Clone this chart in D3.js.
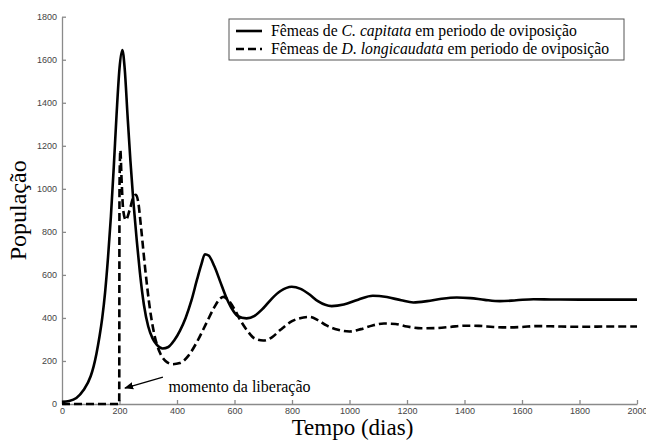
<!DOCTYPE html>
<html>
<head>
<meta charset="utf-8">
<script src="https://cdn.jsdelivr.net/npm/d3@7"></script>
<style>
  body { margin: 0; background: #fff; }
  .tick text { font-family: "Liberation Sans", Arial, sans-serif; font-size: 9px; fill: #444; }
  .axis path, .axis line { stroke: #8a8a8a; stroke-width: 1.3; }
</style>
</head>
<body>
<script>
// C. capitata females (solid)
var capDays = [0, 25, 50, 75, 100, 110, 120, 130, 140, 150, 160, 170, 180, 190, 200, 210, 218, 228, 238, 248, 260, 271, 285, 300, 315, 330, 350, 370, 390, 410, 430, 450, 470, 485, 497, 510, 530, 550, 570, 590, 610, 642, 670, 700, 730, 760, 799, 830, 860, 890, 938, 980, 1030, 1081, 1130, 1180, 1222, 1270, 1320, 1373, 1420, 1470, 1523, 1580, 1640, 1700, 1800, 2000]
var capValues = [10, 14, 28, 65, 130, 175, 235, 310, 400, 520, 680, 870, 1100, 1350, 1560, 1645, 1560, 1340, 1130, 945, 760, 610, 460, 360, 305, 275, 258, 265, 295, 340, 400, 480, 580, 650, 696, 690, 640, 570, 500, 445, 410, 398, 410, 445, 490, 525, 545, 535, 510, 478, 455, 462, 485, 503, 497, 482, 472, 478, 489, 495, 492, 484, 478, 482, 487, 486, 485, 485]

// D. longicaudata females (dashed), released at day 200
var lonDays = [0, 199, 200, 203, 207, 213, 222, 235, 248, 257, 265, 275, 290, 305, 320, 340, 360, 385, 410, 440, 470, 500, 530, 550, 562, 580, 600, 620, 645, 670, 700, 730, 760, 800, 840, 860, 890, 920, 960, 1000, 1040, 1080, 1120, 1160, 1200, 1250, 1300, 1350, 1400, 1450, 1500, 1550, 1600, 1650, 1700, 1800, 1900, 2000]
var lonValues = [0, 0, 1000, 1180, 1050, 900, 855, 900, 960, 972, 940, 820, 620, 450, 330, 240, 200, 185, 190, 225, 290, 370, 450, 490, 498, 480, 440, 390, 340, 305, 295, 310, 345, 385, 402, 405, 390, 365, 345, 337, 348, 365, 374, 372, 360, 352, 353, 358, 364, 363, 358, 356, 358, 362, 361, 359, 360, 360]

var xTicks = [0, 200, 400, 600, 800, 1000, 1200, 1400, 1600, 1800, 2000]
var yTicks = [0, 200, 400, 600, 800, 1000, 1200, 1400, 1600, 1800]

var releaseDay = 200

var width = 646, height = 446
var svg = d3.select('body').append('svg').attr('width', width).attr('height', height)

var x = d3.scaleLinear().domain([0, 2000]).range([62, 637])
var y = d3.scaleLinear().domain([0, 1800]).range([404, 16.7])

// axes, ticks pointing inward like matlab
svg.append('g').attr('class', 'axis')
    .attr('transform', 'translate(0,' + y(0) + ')')
    .call(d3.axisBottom(x).tickValues(xTicks).tickSizeInner(-4).tickSizeOuter(0).tickPadding(4).tickFormat(d3.format('d')))
svg.append('g').attr('class', 'axis')
    .attr('transform', 'translate(' + x(0) + ',0)')
    .call(d3.axisLeft(y).tickValues(yTicks).tickSizeInner(-4).tickSizeOuter(0).tickPadding(5).tickFormat(d3.format('d')))

var line = d3.line()
    .x(function(d) { return x(d[0]) })
    .y(function(d) { return y(d[1]) })
    .curve(d3.curveMonotoneX)

var capData = capDays.map(function(d, i) { return [d, capValues[i]] })
var lonData = lonDays.map(function(d, i) { return [d, lonValues[i]] })

svg.append('path').attr('d', line(lonData))
    .attr('fill', 'none').attr('stroke', '#000').attr('stroke-width', 2.6)
    .attr('stroke-dasharray', '8,4')
svg.append('path').attr('d', line(capData))
    .attr('fill', 'none').attr('stroke', '#000').attr('stroke-width', 2.6)

// axis titles
svg.append('text').attr('x', (x(0) + x(2000)) / 2 + 3).attr('y', 435)
    .attr('text-anchor', 'middle')
    .style('font-family', '"Liberation Serif", "Times New Roman", serif').style('font-size', '23px')
    .text('Tempo (dias)')
svg.append('text').attr('transform', 'translate(26,' + ((y(0) + y(1800)) / 2) + ') rotate(-90)')
    .attr('text-anchor', 'middle')
    .style('font-family', '"Liberation Serif", "Times New Roman", serif').style('font-size', '24px')
    .text('População')

// annotation for the release moment
svg.append('defs').append('marker').attr('id', 'arrow')
    .attr('viewBox', '0 0 10 10').attr('refX', 9).attr('refY', 5)
    .attr('markerWidth', 7).attr('markerHeight', 7).attr('orient', 'auto')
    .append('path').attr('d', 'M0,1 L10,5 L0,9 z').attr('fill', '#000')
svg.append('line')
    .attr('x1', x(351)).attr('y1', y(125))
    .attr('x2', x(releaseDay + 19)).attr('y2', y(74))
    .attr('stroke', '#000').attr('stroke-width', 1.3)
    .attr('marker-end', 'url(#arrow)')
svg.append('text').attr('x', x(370)).attr('y', 392)
    .style('font-family', '"Liberation Serif", "Times New Roman", serif').style('font-size', '16px')
    .text('momento da liberação')

// legend
var legend = svg.append('g')
legend.append('rect').attr('x', 229).attr('y', 19).attr('width', 395).attr('height', 41)
    .attr('fill', '#fff').attr('stroke', '#555').attr('stroke-width', 1)
var items = [
    {italic: 'C. capitata', dash: null},
    {italic: 'D. longicaudata', dash: '8,4'}
]
items.forEach(function(it, i) {
    var ly = 31 + i * 18
    legend.append('line').attr('x1', 236).attr('x2', 262).attr('y1', ly).attr('y2', ly)
        .attr('stroke', '#000').attr('stroke-width', 2.6)
        .attr('stroke-dasharray', it.dash)
    var t = legend.append('text').attr('x', 271).attr('y', ly + 5)
        .style('font-family', '"Liberation Serif", "Times New Roman", serif').style('font-size', '15.7px')
    t.append('tspan').text('Fêmeas de ')
    t.append('tspan').style('font-style', 'italic').text(it.italic)
    t.append('tspan').text(' em periodo de oviposição')
})
</script>
</body>
</html>
